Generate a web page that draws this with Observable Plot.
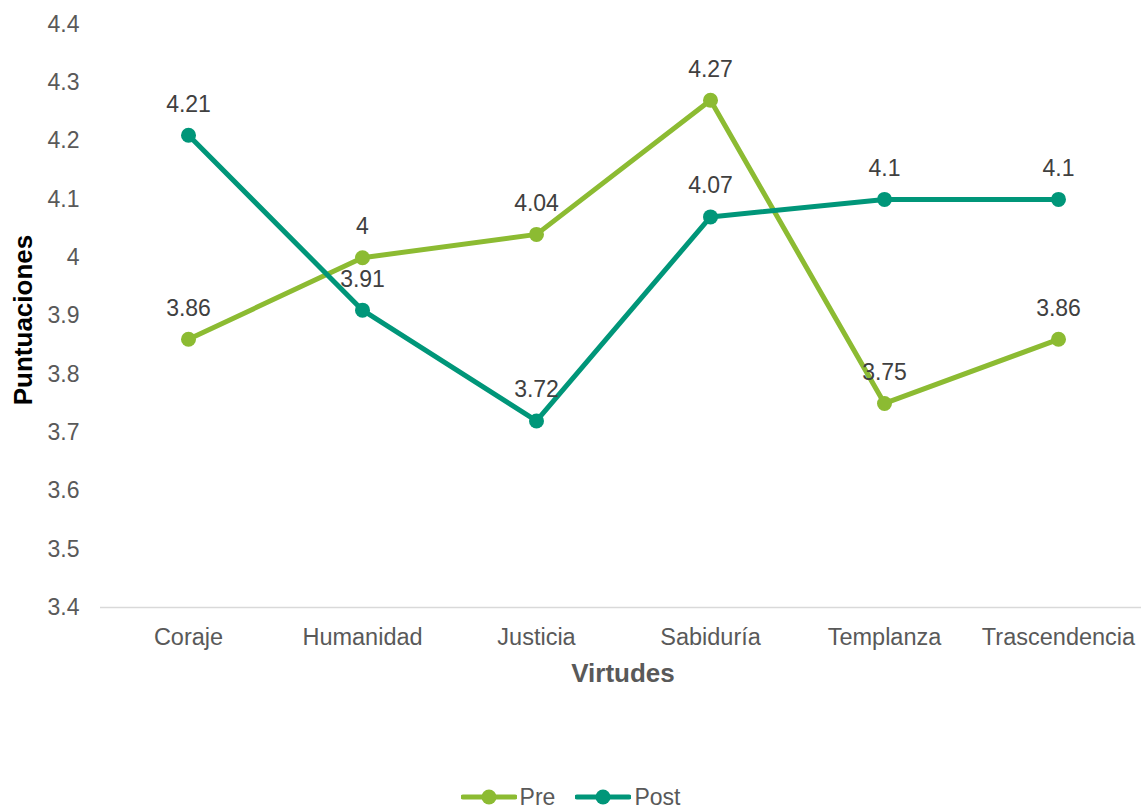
<!DOCTYPE html>
<html>
<head>
<meta charset="utf-8">
<script src="https://cdn.jsdelivr.net/npm/d3@7"></script>
<script src="https://cdn.jsdelivr.net/npm/@observablehq/plot@0.6"></script>
<style>
  html, body { margin: 0; padding: 0; background: #fff; }
  #chart { width: 1141px; font-family: "Liberation Sans", Arial, sans-serif; }
  .legend { display: flex; justify-content: center; align-items: center; height: 44px; font-size: 23px; color: #595959; }
  .legend .item { display: flex; align-items: center; }
  .legend .item + .item { margin-left: 20px; }
  .legend svg { display: block; }
  .legend span { margin-left: 3px; }
</style>
</head>
<body>
<div id="chart"></div>
<script>
// Virtue categories and mean scores before / after the intervention
const virtudes = ["Coraje", "Humanidad", "Justicia", "Sabiduría", "Templanza", "Trascendencia"];
const pre = [3.86, 4, 4.04, 4.27, 3.75, 3.86];
const post = [4.21, 3.91, 3.72, 4.07, 4.1, 4.1];
const yTicks = [3.4, 3.5, 3.6, 3.7, 3.8, 3.9, 4, 4.1, 4.2, 4.3, 4.4];
const serieNames = ["Pre", "Post"];
const serieColors = ["#8cbb32", "#009679"];

// Long-format table for the marks
const rows = [
  ...pre.map((v, i) => ({ serie: "Pre", virtud: virtudes[i], valor: v })),
  ...post.map((v, i) => ({ serie: "Post", virtud: virtudes[i], valor: v }))
];

const font = "'Liberation Sans', Arial, sans-serif";

const chart = Plot.plot({
  width: 1141,
  height: 775,
  marginLeft: 100,
  marginRight: 0,
  marginTop: 24,
  marginBottom: 168,
  style: { fontFamily: font, fontSize: "23px", color: "#595959", background: "#fff" },
  x: { type: "point", domain: virtudes, range: [100, 1146], padding: 0.5 },
  y: { domain: [3.4, 4.4] },
  color: { domain: serieNames, range: serieColors },
  marks: [
    Plot.ruleY([3.4], { stroke: "#d9d9d9", strokeWidth: 1.5 }),
    Plot.axisY({ ticks: yTicks, tickSize: 0, tickPadding: 21, tickFormat: d => String(+d.toFixed(1)), label: null, fill: "#595959", fontSize: 23 }),
    Plot.axisX({ tickSize: 0, tickPadding: 21, label: null, fill: "#595959", fontSize: 23.5 }),
    Plot.line(rows, { x: "virtud", y: "valor", z: "serie", stroke: "serie", strokeWidth: 5, strokeLinejoin: "round" }),
    Plot.dot(rows, { x: "virtud", y: "valor", fill: "serie", r: 7.5 }),
    Plot.text(rows, { x: "virtud", y: "valor", text: d => String(d.valor), dy: -31, fill: "#404040", fontSize: 23 }),
    Plot.text(["Virtudes"], { frameAnchor: "bottom", dx: 2, dy: 74, fontWeight: "bold", fontSize: 26, fill: "#595959" }),
    Plot.text(["Puntuaciones"], { frameAnchor: "left", dx: -77, dy: 4, rotate: -90, textAnchor: "middle", fontWeight: "bold", fontSize: 26, fill: "#000" })
  ]
});

const root = document.getElementById("chart");
root.appendChild(chart);

// Legend below the plot
const legend = document.createElement("div");
legend.className = "legend";
serieNames.forEach((name, i) => {
  const item = document.createElement("div");
  item.className = "item";
  item.innerHTML =
    `<svg width="56" height="20"><line x1="2" x2="54" y1="10" y2="10" stroke="${serieColors[i]}" stroke-width="5" stroke-linecap="round"/>` +
    `<circle cx="28" cy="10" r="7.5" fill="${serieColors[i]}"/></svg><span>${name}</span>`;
  legend.appendChild(item);
});
root.appendChild(legend);
</script>
</body>
</html>
